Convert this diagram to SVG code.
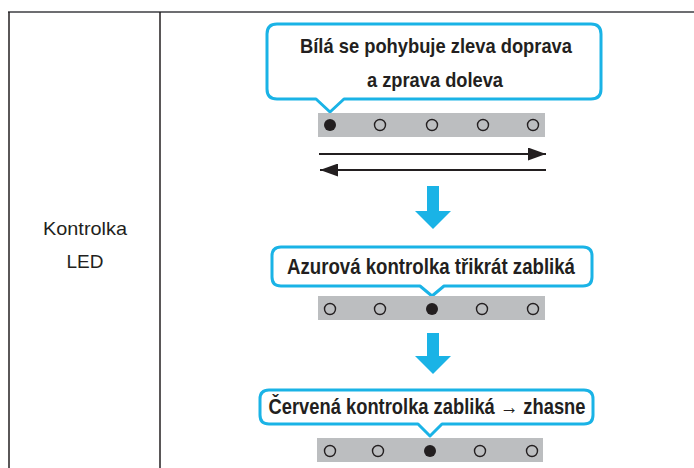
<svg xmlns="http://www.w3.org/2000/svg" width="694" height="468" viewBox="0 0 694 468">
<style>
.bub{fill:#fff;stroke:#1ab3e6;stroke-width:3;stroke-linejoin:round}
.bt{font-family:"Liberation Sans",Arial,sans-serif;font-weight:bold;fill:#231f20;text-anchor:middle}
.bar{fill:#bcbec0}
.on{fill:#231f20}
.off{fill:none;stroke:#231f20;stroke-width:1.4}
.blue{fill:#1ab3e6}
.ln{stroke:#231f20;stroke-width:2;fill:none}
</style>
<defs>
<marker id="ah" viewBox="0 0 18 13" refX="18" refY="6.5" markerWidth="18" markerHeight="13" markerUnits="userSpaceOnUse" orient="auto">
<path d="M0,0 L18,6.5 L0,13 Z" fill="#231f20"/>
</marker>
</defs>
<g id="table">
<line x1="8" y1="12" x2="694" y2="12" stroke="#6d6e71" stroke-width="2"/>
<line x1="9" y1="12" x2="9" y2="468" stroke="#231f20" stroke-width="1.5"/>
<line x1="160" y1="12" x2="160" y2="468" stroke="#231f20" stroke-width="1.5"/>
</g>
<g id="label">
<text x="85" y="235" font-family="Liberation Sans,Arial,sans-serif" font-size="19" fill="#231f20" text-anchor="middle" textLength="84" lengthAdjust="spacingAndGlyphs">Kontrolka</text>
<text x="85" y="268" font-family="Liberation Sans,Arial,sans-serif" font-size="19" fill="#231f20" text-anchor="middle">LED</text>
</g>
<g id="bubble1">
<path class="bub" d="M277,24 H591 Q601,24 601,34 V89 Q601,99 591,99 H344 L330,112 L316,99 H277 Q267,99 267,89 V34 Q267,24 277,24 Z"/>
<text class="bt" x="436" y="53" font-size="20.5" textLength="272" lengthAdjust="spacingAndGlyphs">Bílá se pohybuje zleva doprava</text>
<text class="bt" x="435" y="87" font-size="20.5" textLength="136" lengthAdjust="spacingAndGlyphs">a zprava doleva</text>
</g>
<g id="led1">
<rect class="bar" x="318" y="113" width="227" height="24"/>
<circle class="on" cx="330" cy="125" r="6"/>
<circle class="off" cx="380" cy="125" r="5.5"/>
<circle class="off" cx="432" cy="125" r="5.5"/>
<circle class="off" cx="483" cy="125" r="5.5"/>
<circle class="off" cx="533" cy="125" r="5.5"/>
</g>
<g id="connectors">
<line class="ln" x1="319" y1="154" x2="546" y2="154" marker-end="url(#ah)"/>
<line class="ln" x1="546" y1="170" x2="320" y2="170" marker-end="url(#ah)"/>
<path class="blue" d="M427,186 H439 V211 H451 L433,229 L415,211 H427 Z"/>
<path class="blue" d="M427,333 H439 V356 H451 L433,374 L415,356 H427 Z"/>
</g>
<g id="bubble2">
<path class="bub" d="M281,247 H583 Q592,247 592,256 V277 Q592,286 583,286 H444 L432,296 L420,286 H281 Q272,286 272,277 V256 Q272,247 281,247 Z"/>
<text class="bt" x="431" y="274" font-size="21.5" textLength="288" lengthAdjust="spacingAndGlyphs">Azurová kontrolka třikrát zabliká</text>
</g>
<g id="led2">
<rect class="bar" x="318" y="296" width="227" height="24"/>
<circle class="off" cx="330" cy="309" r="5.5"/>
<circle class="off" cx="380" cy="309" r="5.5"/>
<circle class="on" cx="432" cy="309" r="6"/>
<circle class="off" cx="482" cy="309" r="5.5"/>
<circle class="off" cx="533" cy="309" r="5.5"/>
</g>
<g id="bubble3">
<path class="bub" d="M269,390 H584 Q593,390 593,399 V415 Q593,424 584,424 H442 L430,436 L418,424 H269 Q260,424 260,415 V399 Q260,390 269,390 Z"/>
<text class="bt" x="427" y="414" font-size="21.5" textLength="317" lengthAdjust="spacingAndGlyphs">Červená kontrolka zabliká → zhasne</text>
</g>
<g id="led3">
<rect class="bar" x="317" y="438" width="226" height="24"/>
<circle class="off" cx="330" cy="451" r="5.5"/>
<circle class="off" cx="378" cy="451" r="5.5"/>
<circle class="on" cx="430" cy="451" r="6"/>
<circle class="off" cx="480" cy="451" r="5.5"/>
<circle class="off" cx="532" cy="451" r="5.5"/>
</g>
</svg>
